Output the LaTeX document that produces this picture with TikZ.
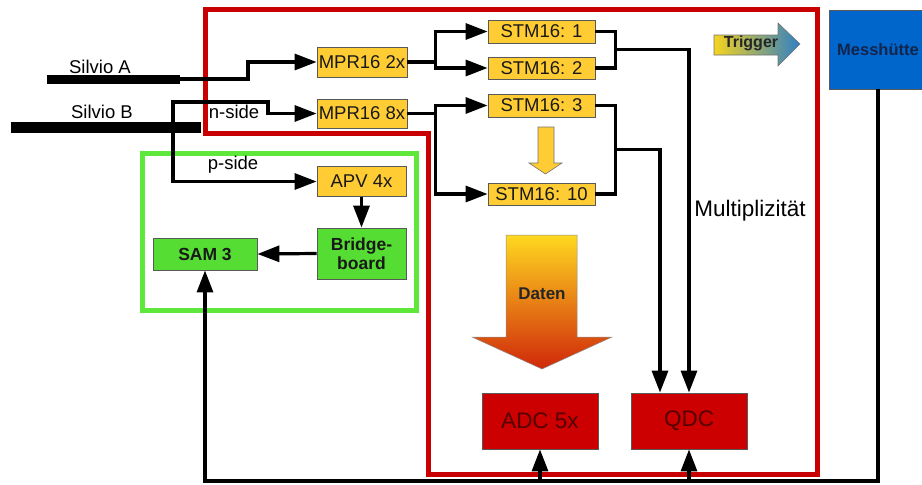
\documentclass[tikz,border=0pt]{standalone}
\usepackage{fontspec}
\setmainfont{Liberation Sans}
\usetikzlibrary{arrows.meta,calc}
\definecolor{boxyellow}{HTML}{FFCC33}
\definecolor{redframe}{HTML}{C80000}
\definecolor{greenframe}{HTML}{5EE83C}
\definecolor{greenbox}{HTML}{55DD33}
\definecolor{redbox}{HTML}{CC0000}
\definecolor{redtext}{HTML}{550000}
\definecolor{bluebox}{HTML}{0066CC}
\definecolor{bluetext}{HTML}{14244A}
\definecolor{datentop}{HTML}{FFD820}
\definecolor{datenbot}{HTML}{D0280A}
\definecolor{trigl}{HTML}{F5D41E}
\definecolor{trigr}{HTML}{2F7FC6}
\begin{document}
\begin{tikzpicture}[x=1pt,y=-1pt,
  box/.style={draw=black!65, line width=0.8pt, inner sep=0pt, align=center,
              font=\fontsize{18.5}{20}\selectfont, text=black!90},
  ybox/.style={box, fill=boxyellow},
  gbox/.style={box, fill=greenbox, font=\bfseries\fontsize{17.5}{18.5}\selectfont},
  rbox/.style={box, fill=redbox, text=redtext, font=\fontsize{22.5}{24}\selectfont,
               minimum width=116pt, minimum height=56pt},
  lbl/.style={font=\fontsize{18.5}{20}\selectfont, inner sep=0pt},
  wire/.style={line width=3.2pt},
  conn/.style={wire, -{Triangle[length=22pt,width=16pt]}},
  bar/.style={line width=10pt},
  shapeline/.style={draw=black!55, line width=0.6pt}
]
\clip (0,0) rectangle (922,485);
\useasboundingbox (0,0) rectangle (922,485);

% frames
\draw[redframe, line width=5pt] (205,9) -- (817,9) -- (817,474) -- (428,474)
  -- (428,133) -- (205,133) -- cycle;
\draw[greenframe, line width=5pt] (142,153) rectangle (416,310);

% Silvio bars
\coordinate (saL) at (47,79);
\coordinate (saR) at (180,79);
\coordinate (sbL) at (11,127);
\coordinate (sbR) at (201,127);
\coordinate (sbj) at (173,127);
\draw[bar, line width=9pt] (saL) -- (saR);
\draw[bar, line width=11pt] (sbL) -- (sbR);
\node[lbl] (silvioA) at (100,67) {Silvio A};
\node[lbl] (silvioB) at (102,112) {Silvio B};
\node[lbl] (nside) at (234,112) {n-side};
\node[lbl] (pside) at (233,165) {p-side};

% boxes
\node[ybox, minimum width=90pt, minimum height=30pt] (mpr2) at (362,62) {MPR16 2x};
\node[ybox, minimum width=90pt, minimum height=29pt] (mpr8) at (362,113.5) {MPR16 8x};
\node[ybox, minimum width=107pt, minimum height=23pt] (stm1) at (541.5,31.5) {STM16: 1};
\node[ybox, minimum width=107pt, minimum height=22pt] (stm2) at (541.5,68) {STM16: 2};
\node[ybox, minimum width=107pt, minimum height=23pt] (stm3) at (541.5,105.5) {STM16: 3};
\node[ybox, minimum width=107pt, minimum height=22pt] (stm10) at (541.5,194) {STM16: 10};
\node[ybox, minimum width=89pt, minimum height=30pt] (apv) at (361.5,181.5) {APV 4x};
\node[gbox, minimum width=89pt, minimum height=51pt] (bridge) at (361.5,253.5) {Bridge-\\board};
\node[gbox, minimum width=104pt, minimum height=32pt] (sam) at (205,254) {SAM 3};
\node[rbox] (adc) at (540,421) {ADC 5x};
\node[rbox] (qdc) at (689,421) {QDC};
\node[box, fill=bluebox, text=bluetext, minimum width=98pt, minimum height=79pt,
      font=\bfseries\fontsize{16.5}{18}\selectfont] (mess) at (878,49.5) {Messhütte};
\node[font=\fontsize{22.5}{24}\selectfont, inner sep=0pt] (multi) at (750,211) {Multiplizität};

% connectors from Silvio
\draw[conn] (saR) -- ++(68,0) |- (mpr2.west);
\draw[conn] (sbj) |- (268,102) |- (mpr8.west);
\draw[conn] (sbj) |- (apv.west);

% splits
\draw[conn] (mpr2.east) -- ++(28,0) |- (stm1.west);
\draw[conn] (mpr2.east) -- ++(28,0) |- (stm2.west);
\draw[conn] (mpr8.east) -- ++(28,0) |- (stm3.west);
\draw[conn] (mpr8.east) -- ++(28,0) |- (stm10.west);

% merges
\draw[wire] (stm1.east) -- ++(20,0) |- (stm2.east);
\draw[wire] (stm3.east) -- ++(20,0) |- (stm10.east);
\coordinate (m1) at ($(stm1.east)!0.5!(stm2.east)+(20,0)$);
\coordinate (m2) at ($(stm3.east)!0.5!(stm10.east)+(20,0)$);
\draw[conn] (m1) -| (qdc.north);
\draw[conn] (m2) -| ([xshift=-29pt]qdc.north);

% APV -> Bridge -> SAM
\draw[conn] (apv.south) -- (bridge.north);
\draw[conn] (bridge.west) -- (sam.east);

% bus
\coordinate (busR) at (878,481);
\draw[conn] (mess.south) -- (busR) -| (sam.south);
\draw[conn] (adc.south |- busR) -- (adc.south);
\draw[conn] (qdc.south |- busR) -- (qdc.south);

% Daten arrow
\shade[top color=datentop, bottom color=datenbot, draw=black!45, line width=0.5pt]
  (506,235) -- (577,235) -- (577,337) -- (612,337) -- (542,369) -- (472,337)
  -- (506,337) -- cycle;
\node[font=\bfseries\fontsize{17}{18}\selectfont, text=black!85, inner sep=0pt] (daten) at (542,294) {Daten};

% Trigger arrow
\shade[left color=trigl, right color=trigr, draw=black!55, line width=0.6pt]
  (714,35) -- (778,35) -- (778,23) -- (800,44) -- (778,66) -- (778,55)
  -- (714,55) -- cycle;
\node[font=\bfseries\fontsize{16}{17}\selectfont, text=black!85, inner sep=0pt] (trigger) at (751,43) {Trigger};

% small yellow arrow
\draw[shapeline, fill=boxyellow] (538,127) -- (554,127) -- (554,163) -- (562,163)
  -- (545.5,174) -- (529,163) -- (538,163) -- cycle;
\end{tikzpicture}
\end{document}
